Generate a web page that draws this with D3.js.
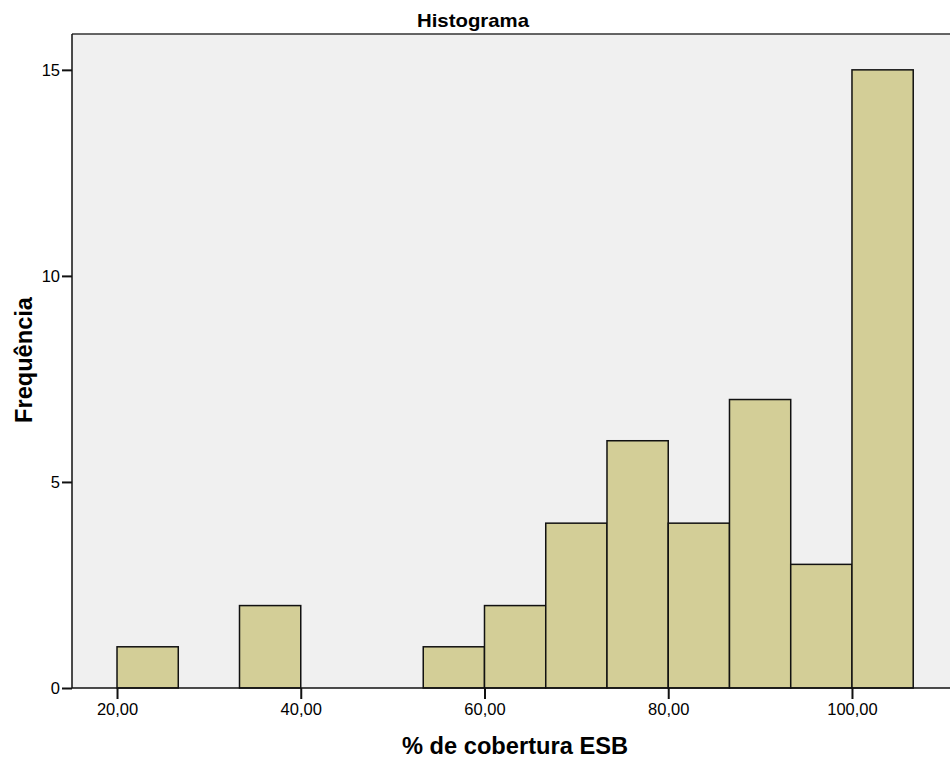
<!DOCTYPE html>
<html>
<head>
<meta charset="utf-8">
<script src="https://cdn.jsdelivr.net/npm/d3@7"></script>
<style>
  body { margin: 0; background: #fff; }
  text { font-family: "Liberation Sans", Arial, sans-serif; fill: #000; }
</style>
</head>
<body>
<div id="chart"></div>
<script>
// Histogram bins (lower edge, upper edge) and counts
const binEdges = [20, 26.667, 33.333, 40, 46.667, 53.333, 60, 66.667, 73.333, 80, 86.667, 93.333, 100, 106.667];
const counts = [1, 0, 2, 0, 0, 1, 2, 4, 6, 4, 7, 3, 15];
const xTicks = [20, 40, 60, 80, 100];
const yTicks = [0, 5, 10, 15];

const width = 950, height = 765;
const margin = { top: 34, right: 0, bottom: 77, left: 72 };

const svg = d3.select("#chart")
    .append("svg")
    .attr("width", width)
    .attr("height", height);

const x = d3.scaleLinear()
    .domain([15.1, 110.67])
    .range([margin.left, width - margin.right]);

const y = d3.scaleLinear()
    .domain([0, 15.87])
    .range([height - margin.bottom, margin.top]);

// plot background
svg.append("rect")
    .attr("x", margin.left)
    .attr("y", margin.top)
    .attr("width", width - margin.left - margin.right)
    .attr("height", height - margin.top - margin.bottom)
    .attr("fill", "#f0f0f0");

svg.append("line")
    .attr("x1", margin.left).attr("x2", width)
    .attr("y1", margin.top).attr("y2", margin.top)
    .attr("stroke", "#333").attr("stroke-width", 1.5);

const bins = counts.map((c, i) => ({ x0: binEdges[i], x1: binEdges[i + 1], count: c }))
    .filter(d => d.count > 0);

svg.append("g")
    .selectAll("rect")
    .data(bins)
    .join("rect")
    .attr("x", d => x(d.x0))
    .attr("y", d => y(d.count))
    .attr("width", d => x(d.x1) - x(d.x0))
    .attr("height", d => y(0) - y(d.count))
    .attr("fill", "#d3ce97")
    .attr("stroke", "#111")
    .attr("stroke-width", 1.5);

// axes
const xAxis = svg.append("g")
    .attr("transform", `translate(0,${y(0)})`)
    .call(d3.axisBottom(x).tickValues(xTicks).tickSize(11).tickPadding(4)
        .tickFormat(d => d3.format(".2f")(d).replace(".", ",")));
xAxis.select(".domain").attr("d", `M${margin.left},0H${width}`).attr("stroke", "#111").attr("stroke-width", 1.5);
xAxis.selectAll(".tick line").attr("stroke", "#111").attr("stroke-width", 2);
xAxis.selectAll("text").attr("font-size", 16.5).attr("fill", "#111");

const yAxis = svg.append("g")
    .attr("transform", `translate(${margin.left},0)`)
    .call(d3.axisLeft(y).tickValues(yTicks).tickSize(10).tickPadding(2));
yAxis.select(".domain").attr("d", `M0,${margin.top}V${y(0)}`).attr("stroke", "#111").attr("stroke-width", 1.5);
yAxis.selectAll(".tick line").attr("stroke", "#111").attr("stroke-width", 2);
yAxis.selectAll("text").attr("font-size", 16.5).attr("fill", "#111");

// titles
svg.append("text")
    .attr("x", 473).attr("y", 27)
    .attr("text-anchor", "middle")
    .attr("font-size", 19).attr("font-weight", "bold")
    .attr("textLength", 112).attr("lengthAdjust", "spacingAndGlyphs")
    .text("Histograma");

svg.append("text")
    .attr("x", 515).attr("y", 754)
    .attr("text-anchor", "middle")
    .attr("font-size", 23).attr("font-weight", "bold")
    .attr("textLength", 226).attr("lengthAdjust", "spacingAndGlyphs")
    .text("% de cobertura ESB");

svg.append("text")
    .attr("transform", `translate(32,360) rotate(-90)`)
    .attr("text-anchor", "middle")
    .attr("font-size", 23).attr("font-weight", "bold")
    .attr("textLength", 126).attr("lengthAdjust", "spacingAndGlyphs")
    .text("Frequência");
</script>
</body>
</html>
